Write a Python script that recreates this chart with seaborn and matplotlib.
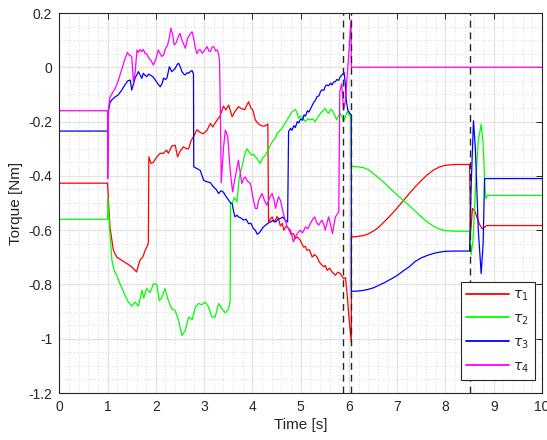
import numpy as np
import pandas as pd
import matplotlib
matplotlib.use("Agg")
import matplotlib.pyplot as plt
import seaborn as sns
from matplotlib.ticker import MultipleLocator

# ---- joint torque traces: (time [s], torque [Nm]) ----
t1 = [0, 1.0, 1.02, 1.05, 1.12, 1.19, 1.30, 1.40, 1.50, 1.60, 1.67, 1.73, 1.78, 1.83, 1.845,
      1.855, 1.90, 1.95, 2.02, 2.09, 2.16, 2.22, 2.26, 2.33, 2.40, 2.45, 2.50, 2.57, 2.63, 2.68,
      2.73, 2.78, 2.85, 2.92, 2.98, 3.06, 3.13, 3.18, 3.23, 3.27, 3.33, 3.40, 3.45, 3.51, 3.58,
      3.65, 3.71, 3.77, 3.84, 3.92, 3.97, 4.01, 4.06, 4.13, 4.18, 4.24, 4.29, 4.32, 4.335,
      4.37, 4.41, 4.45, 4.48, 4.51, 4.54, 4.58, 4.62, 4.65, 4.70, 4.75, 4.80, 4.85, 4.89, 4.93,
      4.99, 5.06, 5.10, 5.13, 5.18, 5.24, 5.29, 5.34, 5.38, 5.41, 5.48, 5.51, 5.55, 5.60, 5.65,
      5.72, 5.77, 5.82, 5.86, 5.89, 5.93, 5.97, 6.00, 6.05,
      6.051, 6.15, 6.30, 6.40, 6.50, 6.60, 6.75, 6.875, 7.00, 7.125, 7.25, 7.375, 7.50, 7.625,
      7.75, 7.875, 8.00, 8.20, 8.50, 8.52, 8.56, 8.61, 8.66, 8.71, 8.76, 8.82, 8.85, 10.0]
tau1 = [-0.427, -0.427, -0.50, -0.588, -0.674, -0.699, -0.712, -0.723, -0.735, -0.754, -0.711,
        -0.699, -0.674, -0.656, -0.645,
        -0.33, -0.354, -0.35, -0.33, -0.317, -0.317, -0.305, -0.317, -0.29, -0.287, -0.33, -0.31,
        -0.293, -0.30, -0.30, -0.27, -0.256, -0.23, -0.24, -0.245, -0.232, -0.207, -0.22, -0.205,
        -0.194, -0.18, -0.143, -0.157, -0.139, -0.182, -0.16, -0.145, -0.152, -0.156, -0.127,
        -0.15, -0.158, -0.194, -0.209, -0.215, -0.217, -0.213, -0.209, -0.57,
        -0.56, -0.551, -0.57, -0.563, -0.55, -0.557, -0.585, -0.575, -0.60, -0.585, -0.594,
        -0.615, -0.613, -0.631, -0.625, -0.637, -0.662, -0.66, -0.674, -0.672, -0.699, -0.69,
        -0.699, -0.715, -0.723, -0.735, -0.73, -0.748, -0.74, -0.754, -0.766, -0.755, -0.76,
        -0.77, -0.779, -0.775, -0.85, -0.92, -1.013,
        -0.625, -0.624, -0.62, -0.614, -0.604, -0.592, -0.566, -0.543, -0.518, -0.492, -0.465,
        -0.44, -0.417, -0.396, -0.379, -0.367, -0.361, -0.358, -0.358, -0.61, -0.52, -0.53,
        -0.557, -0.58, -0.595, -0.588, -0.583, -0.583]

t2 = [0, 1.0, 1.005, 1.04, 1.09, 1.14, 1.19, 1.24, 1.29, 1.36, 1.43, 1.50, 1.57, 1.64, 1.71,
      1.75, 1.81, 1.88, 1.95, 2.02, 2.07, 2.12, 2.19, 2.26, 2.33, 2.40, 2.47, 2.54, 2.61, 2.68,
      2.75, 2.82, 2.89, 2.95, 3.02, 3.09, 3.16, 3.23, 3.30, 3.37, 3.44, 3.51, 3.54,
      3.545, 3.58, 3.63, 3.68, 3.73, 3.78, 3.82, 3.86, 3.89, 3.94, 3.99, 4.03, 4.06, 4.11, 4.16,
      4.21, 4.27, 4.31, 4.34, 4.39, 4.44, 4.48, 4.51, 4.56, 4.61, 4.66, 4.72, 4.77, 4.82, 4.86,
      4.89, 4.93, 4.96, 5.00, 5.03, 5.07, 5.10, 5.15, 5.20, 5.25, 5.30, 5.35, 5.41, 5.46, 5.51,
      5.55, 5.58, 5.62, 5.65, 5.70, 5.75, 5.78, 5.82, 5.86, 5.89, 5.93, 5.96, 6.00, 6.045,
      6.05, 6.15, 6.30, 6.40, 6.50, 6.60, 6.75, 6.875, 7.00, 7.125, 7.25, 7.375, 7.50, 7.625,
      7.75, 7.875, 8.00, 8.20, 8.50, 8.53, 8.57, 8.62, 8.68, 8.74, 8.78, 8.82, 8.84, 8.87, 10.0]
tau2 = [-0.56, -0.56, -0.48, -0.588, -0.711, -0.75, -0.766, -0.79, -0.81, -0.84, -0.865, -0.88,
        -0.865, -0.88, -0.822, -0.85, -0.815, -0.83, -0.797, -0.80, -0.86, -0.85, -0.815, -0.86,
        -0.89, -0.896, -0.932, -0.988, -0.97, -0.92, -0.93, -0.883, -0.87, -0.875, -0.865,
        -0.883, -0.92, -0.92, -0.87, -0.89, -0.905, -0.89, -0.86,
        -0.50, -0.502, -0.48, -0.496, -0.404, -0.37, -0.336, -0.31, -0.30, -0.315, -0.324,
        -0.32, -0.33, -0.34, -0.354, -0.335, -0.324, -0.31, -0.30, -0.28, -0.268, -0.26, -0.244,
        -0.235, -0.225, -0.21, -0.194, -0.18, -0.164, -0.16, -0.155, -0.17, -0.188, -0.18,
        -0.182, -0.195, -0.20, -0.19, -0.194, -0.19, -0.20, -0.185, -0.17, -0.16, -0.151,
        -0.165, -0.17, -0.155, -0.158, -0.175, -0.194, -0.18, -0.17, -0.185, -0.20, -0.18,
        -0.164, -0.175, -0.182,
        -0.365, -0.366, -0.37, -0.377, -0.39, -0.405, -0.428, -0.45, -0.47, -0.49, -0.51, -0.53,
        -0.551, -0.57, -0.585, -0.596, -0.602, -0.604, -0.604, -0.69, -0.64, -0.45, -0.27,
        -0.21, -0.28, -0.45, -0.485, -0.472, -0.472]

t3 = [0, 1.0, 1.005, 1.02, 1.05, 1.09, 1.15, 1.22, 1.29, 1.36, 1.42, 1.47, 1.50, 1.54, 1.57,
      1.64, 1.68, 1.71, 1.74, 1.78, 1.81, 1.85, 1.88, 1.94, 1.99, 2.04, 2.09, 2.13, 2.16, 2.20,
      2.23, 2.28, 2.33, 2.37, 2.40, 2.44, 2.47, 2.51, 2.54, 2.58, 2.61, 2.65, 2.68, 2.72, 2.75,
      2.78, 2.785, 2.85, 2.92, 2.99, 3.06, 3.13, 3.19, 3.25, 3.30, 3.35, 3.40, 3.45, 3.51,
      3.55, 3.58, 3.61, 3.64, 3.68, 3.71, 3.76, 3.82, 3.87, 3.92, 3.97, 4.02, 4.06, 4.10,
      4.13, 4.16, 4.22, 4.27, 4.32, 4.37, 4.42, 4.48, 4.53, 4.58, 4.63, 4.68, 4.73,
      4.75, 4.79, 4.82, 4.86, 4.89, 4.93, 4.96, 5.00, 5.04, 5.07, 5.10, 5.14, 5.17, 5.20, 5.24,
      5.27, 5.31, 5.34, 5.38, 5.41, 5.44, 5.48, 5.51, 5.54, 5.58, 5.62, 5.65, 5.68, 5.72, 5.75,
      5.79, 5.82, 5.85, 5.87, 5.90, 5.92, 5.95, 5.98, 6.02, 6.05,
      6.051, 6.15, 6.30, 6.40, 6.50, 6.60, 6.75, 6.875, 7.00, 7.125, 7.25, 7.375, 7.50, 7.625,
      7.75, 7.875, 8.00, 8.20, 8.50, 8.53, 8.58, 8.62, 8.68, 8.74, 8.78, 8.81, 10.0]
tau3 = [-0.235, -0.235, -0.30, -0.158, -0.13, -0.12, -0.11, -0.102, -0.085, -0.065, -0.05,
        -0.047, -0.084, -0.06, -0.04, -0.016, -0.03, -0.041, -0.022, -0.03, -0.035, -0.025,
        -0.028, -0.035, -0.047, -0.06, -0.072, -0.06, -0.04, -0.045, -0.04, 0.002, -0.016,
        -0.01, -0.004, 0.01, 0.015, 0.0, -0.016, -0.025, -0.028, -0.02, -0.022, -0.015, -0.012,
        -0.025, -0.367, -0.373, -0.38, -0.416, -0.422, -0.425, -0.44, -0.45, -0.465, -0.455,
        -0.46, -0.475, -0.49, -0.50, -0.502, -0.53, -0.551, -0.545, -0.551, -0.555, -0.563,
        -0.56, -0.576, -0.575, -0.594, -0.60, -0.615, -0.612, -0.606, -0.59, -0.582, -0.575,
        -0.57, -0.565, -0.57, -0.56, -0.557, -0.552, -0.563, -0.57,
        -0.237, -0.225, -0.232, -0.215, -0.222, -0.20, -0.205, -0.19, -0.195, -0.175, -0.18,
        -0.16, -0.165, -0.155, -0.14, -0.13, -0.12, -0.108, -0.105, -0.09, -0.083, -0.085,
        -0.07, -0.065, -0.068, -0.058, -0.065, -0.055, -0.053, -0.045, -0.048, -0.035, -0.03,
        -0.025, -0.02, -0.05, -0.13, -0.16, -0.17, -0.175,
        -0.825, -0.825, -0.822, -0.818, -0.813, -0.805, -0.792, -0.78, -0.767, -0.75, -0.735,
        -0.715, -0.702, -0.693, -0.686, -0.681, -0.678, -0.677, -0.677, -0.45, -0.197, -0.30,
        -0.60, -0.76, -0.65, -0.41, -0.41]

t4 = [0, 1.0, 1.003, 1.02, 1.05, 1.10, 1.16, 1.22, 1.29, 1.35, 1.41, 1.45, 1.50, 1.535, 1.57,
      1.61, 1.64, 1.67, 1.71, 1.74, 1.78, 1.81, 1.85, 1.90, 1.95, 2.00, 2.05, 2.09, 2.12, 2.16,
      2.20, 2.24, 2.28, 2.31, 2.35, 2.38, 2.42, 2.46, 2.50, 2.54, 2.57, 2.61, 2.66, 2.70, 2.75,
      2.78, 2.82, 2.85, 2.89, 2.92, 2.96, 3.00, 3.06, 3.10, 3.13, 3.17, 3.20, 3.24, 3.27, 3.30,
      3.32, 3.34, 3.355, 3.40, 3.44, 3.49, 3.54, 3.59, 3.65, 3.71, 3.75, 3.78, 3.82, 3.85,
      3.90, 3.96, 4.01, 4.06, 4.10, 4.13, 4.20, 4.25, 4.30, 4.36, 4.41, 4.45, 4.48, 4.54, 4.58,
      4.61, 4.66, 4.72, 4.79, 4.85, 4.89, 4.93, 4.99, 5.04, 5.10, 5.15, 5.20, 5.25, 5.29, 5.33,
      5.37, 5.44, 5.48, 5.51, 5.55, 5.58, 5.62, 5.66, 5.69, 5.72, 5.79, 5.81, 5.85, 5.89, 5.93,
      6.045, 6.05, 10.0]
tau4 = [-0.16, -0.16, -0.41, -0.15, -0.11, -0.095, -0.077, -0.05, -0.01, 0.025, 0.055, 0.045,
        0.04, -0.053, -0.02, 0.064, 0.055, 0.065, 0.058, 0.066, 0.05, 0.05, 0.035, 0.025, 0.008,
        0.03, 0.064, 0.05, 0.04, 0.045, 0.07, 0.08, 0.11, 0.144, 0.12, 0.082, 0.09, 0.11, 0.125,
        0.10, 0.088, 0.07, 0.107, 0.12, 0.131, 0.11, 0.07, 0.05, 0.065, 0.064, 0.052, 0.06,
        0.076, 0.06, 0.058, 0.075, 0.076, 0.06, 0.064, 0.05, 0.02, -0.20, -0.426, -0.30, -0.231,
        -0.256, -0.38, -0.459, -0.40, -0.342, -0.39, -0.428, -0.41, -0.404, -0.42, -0.428, -0.48,
        -0.52, -0.52, -0.49, -0.465, -0.49, -0.508, -0.48, -0.465, -0.49, -0.52, -0.477, -0.49,
        -0.514, -0.55, -0.588, -0.60, -0.643, -0.625, -0.613, -0.60, -0.61, -0.588, -0.595,
        -0.576, -0.56, -0.551, -0.57, -0.582, -0.563, -0.58, -0.60, -0.57, -0.551, -0.58, -0.613,
        -0.58, -0.551, -0.533, -0.09, -0.06, -0.157, -0.12, 0.175, 0.0, 0.0]

labels = [r"$\tau_1$", r"$\tau_2$", r"$\tau_3$", r"$\tau_4$"]
colors = ["#ff0000", "#00ff00", "#0000ff", "#ff00ff"]
switch_times = [5.88, 6.05, 8.50]

frames = []
for lab, tt, vv in zip(labels, [t1, t2, t3, t4], [tau1, tau2, tau3, tau4]):
    frames.append(pd.DataFrame({"t": tt, "torque": vv, "joint": lab}))
df = pd.concat(frames, ignore_index=True)

sns.set_style("white")
plt.rcParams["font.family"] = ["Liberation Sans", "DejaVu Sans"]
plt.rcParams["mathtext.fontset"] = "dejavusans"
plt.rcParams["axes.unicode_minus"] = False

fig = plt.figure(figsize=(5.47, 4.40), dpi=100)
ax = fig.add_axes([59.3 / 547, 47 / 440, 482.7 / 547, 380 / 440])

# grid: solid major, dotted minor
ax.set_axisbelow(True)
ax.xaxis.set_major_locator(MultipleLocator(1))
ax.xaxis.set_minor_locator(MultipleLocator(0.2))
ax.yaxis.set_major_locator(MultipleLocator(0.2))
ax.yaxis.set_minor_locator(MultipleLocator(0.05))
ax.grid(which="major", color="#e3e3e3", lw=0.9, ls="-")
ax.grid(which="minor", color="#cfcfcf", lw=0.6, ls=(0, (1, 2.5)))

sns.lineplot(data=df, x="t", y="torque", hue="joint", palette=colors,
             estimator=None, sort=False, lw=0.9, ax=ax, legend=True)

for ts in switch_times:
    ax.axvline(ts, color="#262626", lw=1.0, ls=(0, (5, 3.5)), zorder=3)

ax.set_xlim(0, 10)
ax.set_ylim(-1.2, 0.2)
ax.set_yticks(np.round(np.arange(-1.2, 0.21, 0.2), 1))
ax.set_yticklabels(["-1.2", "-1", "-0.8", "-0.6", "-0.4", "-0.2", "0", "0.2"])
ax.set_xlabel("Time [s]", fontsize=11, color="#262626", labelpad=3)
ax.set_ylabel("Torque [Nm]", fontsize=11, color="#262626", labelpad=4)

ax.tick_params(which="major", direction="in", length=4, width=0.7, colors="#262626",
               labelsize=10, top=True, right=True, pad=5)
ax.tick_params(which="minor", length=0, top=True, right=True)
for sp in ax.spines.values():
    sp.set_color("#262626")
    sp.set_linewidth(0.8)

handles, _ = ax.get_legend_handles_labels()
leg = ax.legend(handles, labels, loc="lower right", bbox_to_anchor=(0.985, 0.034),
                borderaxespad=0, fontsize=10, handlelength=3.1, labelspacing=0.6,
                handletextpad=0.3, borderpad=0.4, handleheight=0.9, fancybox=False,
                framealpha=1, edgecolor="#262626")
leg.get_frame().set_linewidth(0.8)
for ln in leg.get_lines():
    ln.set_linewidth(1.3)

fig.savefig("out.png", dpi=100)
